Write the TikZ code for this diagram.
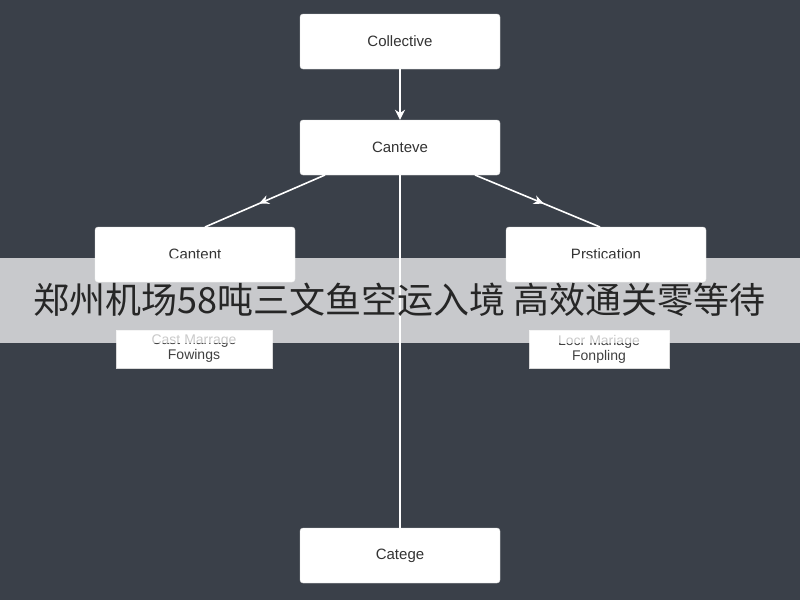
\documentclass[tikz,border=0pt]{standalone}
\usepackage{fontspec}
\setmainfont{Liberation Sans}
\newfontfamily\cjk{Noto Sans CJK SC}
\usetikzlibrary{arrows.meta,decorations.markings}
\definecolor{bg}{HTML}{3A4049}
\definecolor{txt}{HTML}{333333}
\begin{document}
\begin{tikzpicture}[x=1pt,y=-1pt,
  box/.style={draw=black!15,fill=white,rounded corners=3pt,minimum width=200pt,minimum height=55pt,font=\fontsize{15}{18}\selectfont,text=txt},
  lab/.style={draw=black!15,fill=white,minimum height=38pt,inner sep=1pt,font=\fontsize{14}{15}\selectfont,text=black!75,align=center},
  conn/.style={white,line width=1.6pt},
  midarrow/.style={conn,postaction={decorate},decoration={markings,mark=at position 0.55 with {\arrow{Stealth[length=10pt,width=9pt]}}}}]
\fill[bg] (0,0) rectangle (800,600);
\useasboundingbox (0,0) rectangle (800,600);
\node[box] (a) at (400,41.5) {Collective};
\node[box] (b) at (400,147.5) {Canteve};
\node[box] (c) at (195,254.5) {Cantent};
\node[box] (d) at (606,254.5) {Prstication};
\node[box] (e) at (400,555.5) {Catege};
\draw[conn,-{Stealth[length=10pt,width=10pt]}] (a) -- (b);
\draw[midarrow] (325,175) coordinate (b1) -- (205,227) coordinate (c1);
\draw[midarrow] (475,175) coordinate (b2) -- (600,227) coordinate (d1);
\draw[conn] (b) -- (e);
\node[lab,minimum width=156pt] (l1) at (194,349) {Cast Marrage\\Fowings};
\node[lab,minimum width=140pt] (l2) at (599,349) {Locr Mariage\\Fonpling};
\fill[white,opacity=0.72] (0,258) rectangle (800,343);
\node[font=\cjk\fontsize{36}{38}\selectfont,text=black!85] (t) at (400,300) {郑州机场58吨三文鱼空运入境 高效通关零等待};
\end{tikzpicture}
\end{document}
